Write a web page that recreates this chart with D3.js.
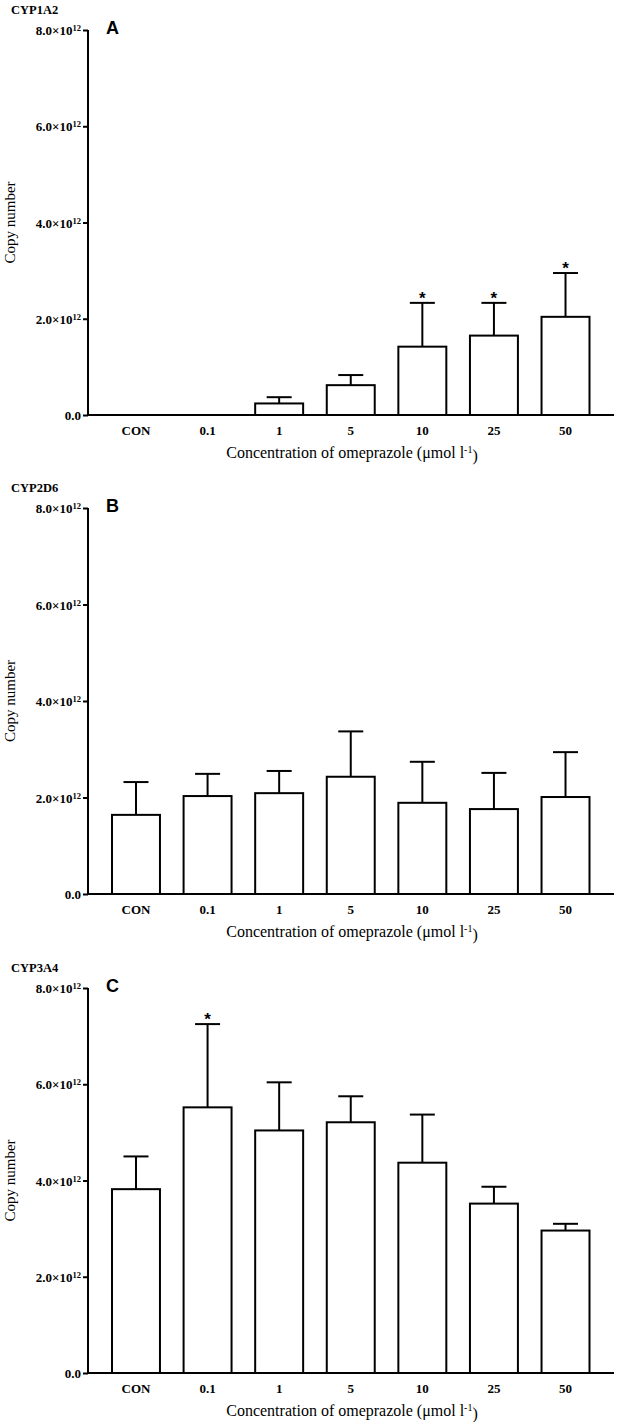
<!DOCTYPE html>
<html><head><meta charset="utf-8">
<script src="https://cdn.jsdelivr.net/npm/d3@7"></script>
<style>body{margin:0;background:#fff}svg{display:block}</style>
</head><body>
<script>
const categories = ["CON","0.1","1","5","10","25","50"];
const yTicks = [0, 2e12, 4e12, 6e12, 8e12];
const panelNames = ["CYP1A2","CYP2D6","CYP3A4"];
const panelLetters = ["A","B","C"];
const meanA = [0, 0, 0.24e12, 0.62e12, 1.42e12, 1.65e12, 2.04e12];
const errA  = [0, 0, 0.37e12, 0.83e12, 2.33e12, 2.33e12, 2.95e12];
const starA = [false,false,false,false,true,true,true];
const meanB = [1.64e12, 2.03e12, 2.09e12, 2.43e12, 1.89e12, 1.76e12, 2.01e12];
const errB  = [2.32e12, 2.49e12, 2.55e12, 3.37e12, 2.74e12, 2.51e12, 2.94e12];
const starB = [false,false,false,false,false,false,false];
const meanC = [3.82e12, 5.52e12, 5.04e12, 5.21e12, 4.37e12, 3.52e12, 2.96e12];
const errC  = [4.50e12, 7.25e12, 6.04e12, 5.75e12, 5.37e12, 3.87e12, 3.10e12];
const starC = [false,true,false,false,false,false,false];
const xTitle = "Concentration of omeprazole (μmol l";
const yTitle = "Copy number";

const W = 617, H = 1422;
const svg = d3.select("body").append("svg").attr("width", W).attr("height", H);
const serif = "'Liberation Serif','Times New Roman',serif";
const sans = "'Liberation Sans',Arial,sans-serif";

const panels = [
  {mean: meanA, err: errA, star: starA, top: 30, base: 415},
  {mean: meanB, err: errB, star: starB, top: 508, base: 894},
  {mean: meanC, err: errC, star: starC, top: 988, base: 1373}
];

const axisX0 = 88, axisX1 = 614;
const x = d3.scaleBand().domain(categories).range([112, 589.5]).paddingInner(0.33).paddingOuter(0);

panels.forEach((p, pi) => {
  const g = svg.append("g");
  const y = d3.scaleLinear().domain([0, 8e12]).range([p.base, p.top]);

  // gene label
  g.append("text").attr("x", 11).attr("y", p.top - 16).attr("font-family", serif)
    .attr("font-weight", "bold").attr("font-size", 12.5).text(panelNames[pi]);
  // panel letter
  g.append("text").attr("x", 106).attr("y", p.top + 4).attr("font-family", sans)
    .attr("font-weight", "bold").attr("font-size", 18).text(panelLetters[pi]);

  // y axis
  const yAxis = d3.axisLeft(y).tickValues(yTicks).tickSize(5).tickFormat(() => "");
  const ya = g.append("g").attr("transform", `translate(${axisX0},0)`).call(yAxis);
  ya.select(".domain").attr("stroke", "#000").attr("stroke-width", 2).attr("d", `M0,${p.top}V${p.base}`);
  ya.selectAll(".tick line").attr("stroke-width", 2);
  ya.selectAll(".tick").each(function(d) {
    const t = d3.select(this).append("text").attr("x", -7).attr("dy", "0.35em")
      .attr("text-anchor", "end").attr("fill", "#000").attr("font-family", serif)
      .attr("font-weight", "bold").attr("font-size", 13);
    if (d === 0) { t.text("0.0"); }
    else {
      t.append("tspan").text((d / 1e12).toFixed(1) + "×10");
      t.append("tspan").attr("dy", "-0.45em").attr("font-size", 8.5).text("12");
    }
  });

  // x axis
  const xAxis = d3.axisBottom(x).tickSize(0).tickPadding(11);
  const xa = g.append("g").attr("transform", `translate(0,${p.base})`).call(xAxis);
  xa.select(".domain").attr("stroke", "#000").attr("stroke-width", 2).attr("d", `M${axisX0},0H${axisX1}`);
  xa.selectAll(".tick text").attr("font-family", serif).attr("font-weight", "bold")
    .attr("font-size", 13).attr("fill", "#000");

  // bars
  const bars = g.append("g");
  categories.forEach((c, i) => {
    const m = p.mean[i];
    if (m <= 0) return;
    const bx = x(c), bw = x.bandwidth(), cx = bx + bw / 2;
    bars.append("line").attr("x1", cx).attr("x2", cx).attr("y1", y(m)).attr("y2", y(p.err[i]))
      .attr("stroke", "#000").attr("stroke-width", 2);
    bars.append("line").attr("x1", cx - 12.5).attr("x2", cx + 12.5).attr("y1", y(p.err[i])).attr("y2", y(p.err[i]))
      .attr("stroke", "#000").attr("stroke-width", 2);
    bars.append("rect").attr("x", bx).attr("y", y(m)).attr("width", bw).attr("height", y(0) - y(m))
      .attr("fill", "#fff").attr("stroke", "#000").attr("stroke-width", 2);
    if (p.star[i]) {
      bars.append("text").attr("x", cx).attr("y", y(p.err[i]) + 1).attr("text-anchor", "middle")
        .attr("font-family", sans).attr("font-weight", "bold").attr("font-size", 17).text("*");
    }
  });

  // y title
  g.append("text").attr("transform", `translate(15,${(p.top + p.base) / 2}) rotate(-90)`)
    .attr("text-anchor", "middle").attr("font-family", serif).attr("font-size", 15).text(yTitle);

  // x title
  const xt = g.append("text").attr("x", 352).attr("y", p.base + 43).attr("text-anchor", "middle")
    .attr("font-family", serif).attr("font-size", 16);
  xt.append("tspan").text(xTitle);
  xt.append("tspan").attr("dy", "-0.5em").attr("font-size", 10).text("-1");
  xt.append("tspan").attr("dy", "0.5em").text(")");
});
</script>
</body></html>
